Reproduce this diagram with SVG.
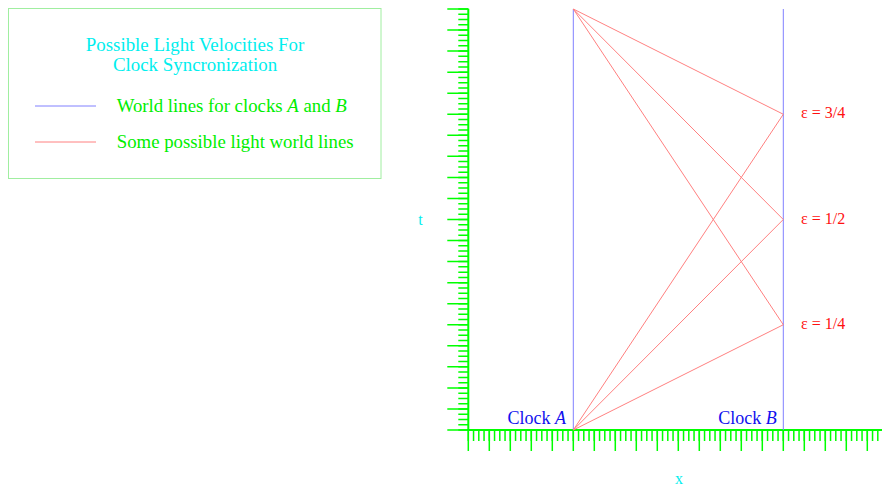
<svg xmlns="http://www.w3.org/2000/svg" width="882" height="488" viewBox="0 0 882 488">
<style>
text{font-family:"Liberation Serif","Times New Roman",serif}
.axis{stroke:#00ff00;fill:none}
.wl{stroke:#8080ff;stroke-width:1;fill:none}
.lt{stroke:#ff8080;stroke-width:1;fill:none}
.cyan{fill:#00eeee}
.grn{fill:#00ee00}
.clk{fill:#1010ee;font-size:18px}
.eps{fill:#ff1010;font-size:16px}
</style>
<rect width="882" height="488" fill="#ffffff"/>
<g id="legend">
<rect x="8.5" y="8.5" width="372.5" height="170" fill="none" stroke="#a0eea0" stroke-width="1"/>
<text class="cyan" x="195" y="51" font-size="18.9" text-anchor="middle">Possible Light Velocities For</text>
<text class="cyan" x="195" y="71" font-size="18.9" text-anchor="middle">Clock Syncronization</text>
<line class="wl" x1="35" y1="106" x2="96" y2="106"/>
<text class="grn" x="116.7" y="111.7" font-size="18.8">World lines for clocks <tspan font-style="italic">A</tspan> and <tspan font-style="italic">B</tspan></text>
<line class="lt" x1="35" y1="142" x2="96" y2="142"/>
<text class="grn" x="116.7" y="147.7" font-size="18.8">Some possible light world lines</text>
</g>
<g id="axes">
<line class="axis" x1="468.3" y1="8.7" x2="468.3" y2="430" stroke-width="2"/>
<line class="axis" x1="467.3" y1="430" x2="882" y2="430" stroke-width="2"/>
<path class="axis" d="M463.3,430.75 V8" stroke-width="10" stroke-dasharray="1.5 3.7625"/>
<path class="axis" d="M457.8,430.75 V8" stroke-width="21" stroke-dasharray="1.5 19.55"/>
<path class="axis" d="M467.55,435.5 H882" stroke-width="11" stroke-dasharray="1.5 3.75"/>
<path class="axis" d="M467.55,440.5 H882" stroke-width="21" stroke-dasharray="1.5 19.5"/>
<text class="cyan" x="418.3" y="224.5" font-size="16">t</text>
<text class="cyan" x="675" y="484" font-size="16">x</text>
</g>
<g id="clockA">
<text class="clk" x="566" y="423.5" text-anchor="end">Clock <tspan font-style="italic">A</tspan></text>
</g>
<g id="clockB">
<text class="clk" x="776.7" y="423.7" text-anchor="end">Clock <tspan font-style="italic">B</tspan></text>
</g>
<g id="eps34"><text class="eps" x="801" y="118.3">ε = 3/4</text></g>
<g id="eps12"><text class="eps" x="801" y="223.5">ε = 1/2</text></g>
<g id="eps14"><text class="eps" x="801" y="329">ε = 1/4</text></g>
<g id="connectors">
<line class="wl" x1="573.3" y1="9" x2="573.3" y2="430"/>
<line class="wl" x1="783.3" y1="9" x2="783.3" y2="430"/>
<polyline class="lt" points="573.3,430 783.3,114.25 573.3,9"/>
<polyline class="lt" points="573.3,430 783.3,219.5 573.3,9"/>
<polyline class="lt" points="573.3,430 783.3,324.75 573.3,9"/>
</g>
</svg>
